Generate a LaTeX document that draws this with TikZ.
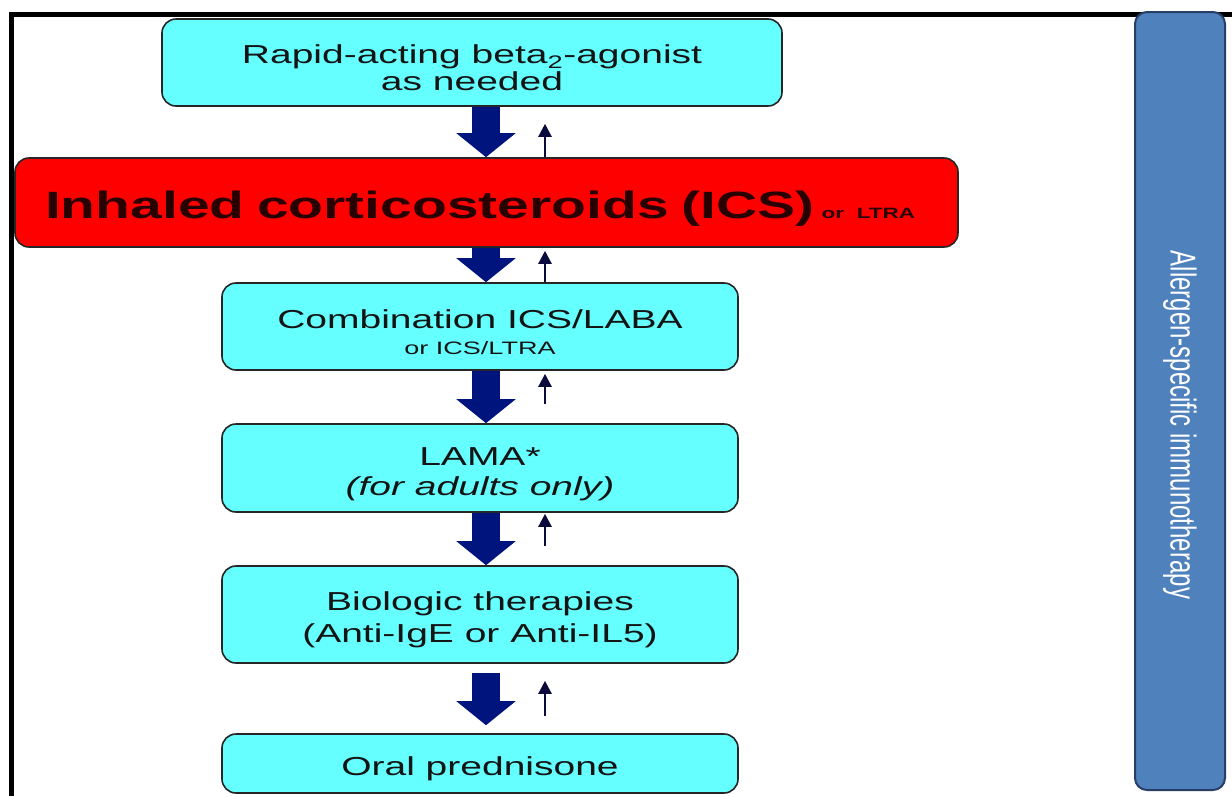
\documentclass[tikz,border=0pt]{standalone}
\usepackage{fontspec}
\setmainfont{Liberation Sans}[FakeStretch=1.5]
\newfontfamily\barfont{Liberation Sans}
\usetikzlibrary{arrows.meta}
\definecolor{boxcyan}{RGB}{102,255,255}
\definecolor{icsred}{RGB}{255,0,0}
\definecolor{barblue}{RGB}{79,129,189}
\definecolor{barline}{RGB}{40,62,102}
\definecolor{arrnavy}{RGB}{0,20,125}
\definecolor{arrdark}{RGB}{10,10,60}
\definecolor{textdark}{RGB}{20,20,20}
\definecolor{icstext}{RGB}{40,0,0}
\newcommand{\lowstrut}{\rule{0pt}{30pt}}

\begin{document}
\begin{tikzpicture}[x=1pt,y=-1pt,
  stepbox/.style={draw=black!85, line width=1.6pt, rounded corners=14pt, fill=boxcyan,
    minimum width=516pt, inner sep=0pt, align=center, text=textdark,
    font=\fontsize{26}{30}\selectfont},
  bigdown/.style={draw=arrnavy, line width=28pt, -{Triangle[width=58pt,length=24pt]}},
  smallup/.style={draw=arrdark, line width=2.4pt, -{Triangle[width=13pt,length=13pt]}}]
\useasboundingbox (0,0) rectangle (1232,796);
\fill[white] (0,0) rectangle (1232,796);
\draw[line width=5pt] (11,796) -- (11,14.5) -- (1232,14.5);

\node[stepbox, minimum width=620pt, minimum height=87pt, font=\fontsize{26}{27}\selectfont] (rapid) at (472,62.5)
  {\lowstrut Rapid-acting beta\textsubscript{2}-agonist\\as needed};
\node[draw=black!85, line width=1.6pt, rounded corners=14pt, fill=icsred,
  minimum height=89pt, inner xsep=30pt, inner ysep=0pt, text width=883pt, align=left,
  text=icstext, font=\bfseries\fontsize{38}{40}\selectfont] (ics) at (486.5,202.5)
  {\raisebox{-16pt}[0pt][0pt]{Inhaled corticosteroids (ICS)\hspace{7pt}{\fontsize{15}{16}\selectfont or LTRA}}};
\node[stepbox, minimum height=87pt] (comb) at (480,326.5)
  {\lowstrut Combination ICS/LABA\\[-4pt]{\fontsize{18}{20}\selectfont or ICS/LTRA}};
\node[stepbox, minimum height=88pt] (lama) at (480,468)
  {\lowstrut LAMA*\\\textit{(for adults only)}};
\node[stepbox, minimum height=97pt, font=\fontsize{26}{32}\selectfont] (bio) at (480,614.5)
  {\lowstrut Biologic therapies\\(Anti-IgE or Anti-IL5)};
\node[stepbox, minimum height=59pt] (oral) at (480,763.5)
  {\lowstrut Oral prednisone};

\node[draw=barline, line width=2pt, rounded corners=12pt, fill=barblue, rotate=-90,
  minimum width=778pt, minimum height=90pt, inner sep=0pt, text=white,
  font=\barfont\fontsize{24}{26}\selectfont] (ait) at (1180,401)
  {\hspace*{48pt}\scalebox{1}[1.5]{Allergen-specific immunotherapy}};

\coordinate (dx) at (486,0);
\coordinate (ux) at (545,0);
\draw[bigdown] (rapid.south -| dx) -- (ics.north -| dx);
\draw[bigdown] (ics.south -| dx) -- (comb.north -| dx);
\draw[bigdown] (comb.south -| dx) -- (lama.north -| dx);
\draw[bigdown] (lama.south -| dx) -- (bio.north -| dx);
\draw[bigdown, shorten <=9pt, shorten >=8pt] (bio.south -| dx) -- (oral.north -| dx);
\draw[smallup, shorten >=17pt] (ics.north -| ux) -- (rapid.south -| ux);
\draw[smallup, shorten >=3pt] (comb.north -| ux) -- (ics.south -| ux);
\draw[smallup, shorten <=19pt, shorten >=3pt] (lama.north -| ux) -- (comb.south -| ux);
\draw[smallup, shorten <=19pt, shorten >=1pt] (bio.north -| ux) -- (lama.south -| ux);
\draw[smallup, shorten <=17pt, shorten >=17pt] (oral.north -| ux) -- (bio.south -| ux);
\end{tikzpicture}
\end{document}
